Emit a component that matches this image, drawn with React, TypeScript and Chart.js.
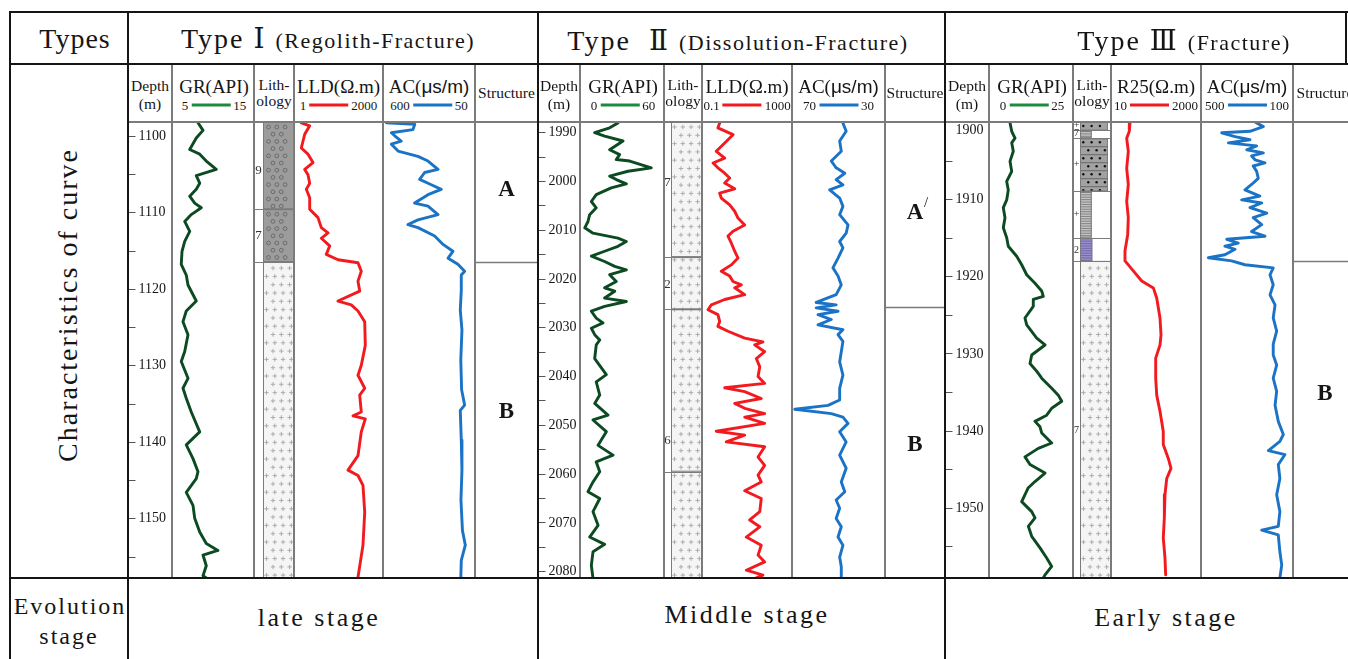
import React, { useEffect, useRef } from 'react';
import { Chart, registerables } from 'chart.js';
Chart.register(...registerables);

// ================= Type I (Regolith-Fracture) =================
const t1DepthRange = [1098.2, 1157.8];
const t1DepthMajor = [1100, 1110, 1120, 1130, 1140, 1150];
const t1DepthMinor = [1105, 1115, 1125, 1135, 1145, 1155];
const t1GrScale = [5, 15];
const t1GrDepth = [1098.3, 1099.3, 1100.3, 1101.8, 1102.4, 1103.3, 1104.4, 1105.2, 1106.2, 1107.0, 1107.9, 1108.8, 1109.4, 1110.3, 1111.2, 1112.5, 1113.8, 1115.1, 1116.8, 1118.2, 1119.5, 1121.6, 1122.9, 1124.3, 1126.0, 1128.2, 1129.5, 1131.7, 1133.0, 1134.3, 1136.1, 1138.7, 1140.4, 1142.2, 1143.9, 1144.8, 1146.6, 1148.3, 1150.0, 1151.8, 1153.3, 1154.2, 1154.8, 1156.2, 1157.5, 1158.1];
const t1GrValue = [8.17, 8.78, 7.96, 7.16, 8.38, 9.18, 10.4, 7.96, 8.38, 7.96, 7.16, 7.77, 8.57, 7.35, 6.55, 7.16, 6.55, 6.22, 6.13, 6.74, 6.95, 7.96, 6.74, 6.34, 6.95, 6.55, 6.13, 6.95, 6.34, 6.74, 7.35, 8.38, 6.74, 7.56, 8.17, 7.96, 6.74, 7.56, 7.77, 8.38, 9.18, 10.6, 8.78, 9.18, 8.78, 9.6];
const t1LldScale = [1, 2000];
const t1LldDepth = [1098.3, 1098.7, 1099.8, 1101.6, 1102.4, 1103.5, 1104.4, 1105.1, 1106.2, 1107.0, 1108.1, 1109.6, 1110.7, 1112.0, 1112.7, 1113.4, 1114.4, 1115.5, 1116.2, 1116.6, 1117.7, 1119.0, 1120.3, 1121.6, 1122.1, 1122.9, 1124.3, 1127.4, 1130.0, 1131.3, 1133.0, 1133.9, 1136.1, 1136.6, 1137.0, 1138.7, 1141.8, 1143.7, 1144.4, 1145.7, 1149.2, 1153.5, 1157.7];
const t1LldValue = [1.59, 3.31, 2.14, 1.59, 2.85, 4.42, 2.14, 2.85, 3.31, 2.46, 3.31, 3.31, 6.84, 9.12, 16.4, 9.12, 19.0, 14.1, 39.2, 225, 300, 225, 261, 39.2, 125, 225, 405, 426, 300, 225, 405, 261, 300, 146, 426, 300, 225, 94, 225, 348, 405, 348, 225];
const t1AcScale = [600, 50];
const t1AcDepth = [1098.3, 1098.5, 1099.2, 1099.6, 1100.0, 1100.7, 1101.1, 1102.0, 1102.7, 1103.3, 1104.4, 1104.8, 1105.7, 1106.4, 1107.0, 1107.7, 1108.8, 1109.2, 1110.3, 1111.0, 1111.6, 1112.0, 1113.1, 1114.2, 1115.1, 1116.0, 1116.8, 1117.7, 1118.2, 1120.2, 1122.8, 1125.4, 1129.3, 1133.2, 1135.2, 1135.9, 1139.8, 1143.7, 1147.6, 1151.6, 1153.5, 1155.5, 1157.9];
const t1AcValue = [580, 410, 421, 550, 530, 491, 550, 510, 391, 331, 271, 351, 381, 311, 252, 331, 411, 331, 271, 391, 451, 391, 291, 241, 182, 211, 152, 112, 132, 132, 138, 128, 135, 130, 112, 138, 132, 128, 134, 125, 108, 132, 135];
const t1LithTop = [1098.2, 1109.6, 1116.5];
const t1LithBottom = [1109.6, 1116.5, 1157.8];
const t1LithRock = ['gravel', 'gravel', 'granite'];
const t1LithLabel = ['9', '7', ''];
const t1LithLabelDepth = [1104.5, 1113.1, 0];
const t1StructBounds = [1116.5];
const t1StructLabels = ['A', 'B'];
const t1StructLabelDepth = [1107.1, 1136.1];

// ================= Type II (Dissolution-Fracture) =================
const t2DepthRange = [1987.9, 2081.4];
const t2DepthMajor = [1990, 2000, 2010, 2020, 2030, 2040, 2050, 2060, 2070, 2080];
const t2DepthMinor = [1995, 2005, 2015, 2025, 2035, 2045, 2055, 2065, 2075];
const t2GrScale = [0, 60];
const t2GrDepth = [1988.1, 1989.1, 1990.1, 1990.8, 1991.8, 1993.6, 1994.6, 1995.6, 1995.9, 1997.3, 1998.0, 1999.0, 1999.7, 2000.6, 2001.4, 2002.8, 2004.2, 2005.5, 2006.9, 2008.3, 2009.6, 2010.7, 2011.7, 2012.4, 2013.4, 2014.4, 2015.4, 2016.5, 2017.5, 2018.2, 2019.2, 2020.6, 2021.9, 2022.6, 2024.0, 2024.7, 2025.7, 2026.7, 2028.1, 2029.1, 2030.2, 2031.5, 2032.6, 2033.6, 2036.4, 2039.7, 2041.2, 2043.9, 2045.6, 2048.0, 2049.0, 2051.4, 2054.2, 2056.2, 2057.6, 2059.6, 2061.7, 2063.7, 2065.1, 2067.8, 2070.6, 2073.0, 2074.5, 2076.0, 2078.8, 2081.5];
const t2GrValue = [27.1, 21.2, 10.5, 17.6, 30.7, 21.2, 28.3, 25.9, 35.5, 50.9, 34.3, 21.2, 25.9, 33.1, 22.3, 11.6, 8.1, 11.6, 6.9, 5.7, 3.4, 9.3, 27.1, 33.1, 27.1, 17.6, 8.1, 17.6, 24.8, 33.1, 21.2, 25.9, 17.6, 24.8, 17.6, 33.1, 17.6, 8.1, 11.6, 16.4, 8.1, 10.5, 14.1, 11.6, 10.5, 18.8, 11.6, 14.1, 10.5, 20.0, 9.3, 18.8, 12.9, 23.6, 11.6, 14.1, 9.3, 5.7, 14.1, 9.3, 12.9, 6.9, 17.6, 9.3, 8.1, 9.3];
const t2LldScale = [0.1, 1000];
const t2LldDepth = [1988.1, 1989.1, 1990.5, 1992.2, 1993.9, 1995.3, 1996.3, 1997.3, 1998.4, 1999.4, 2000.4, 2001.6, 2002.5, 2003.5, 2004.9, 2006.2, 2007.6, 2009.0, 2010.3, 2011.3, 2012.7, 2014.4, 2015.8, 2017.2, 2018.5, 2019.5, 2020.6, 2021.3, 2021.9, 2023.3, 2024.3, 2025.4, 2026.4, 2027.4, 2028.8, 2029.8, 2030.8, 2032.2, 2033.0, 2033.6, 2035.0, 2036.4, 2038.1, 2040.1, 2041.5, 2042.4, 2043.2, 2044.6, 2045.6, 2046.6, 2047.7, 2048.4, 2049.7, 2051.3, 2052.1, 2053.5, 2054.5, 2056.6, 2058.3, 2060.3, 2061.7, 2063.5, 2065.1, 2067.8, 2069.5, 2070.9, 2073.0, 2074.7, 2076.7, 2078.1, 2079.8, 2080.8, 2081.5];
const t2LldValue = [0.61, 0.51, 2.39, 1.02, 0.43, 1.02, 0.31, 0.51, 1.02, 1.70, 1.02, 2.84, 0.61, 0.72, 1.70, 2.84, 3.98, 7.9, 2.39, 1.43, 2.0, 2.84, 3.98, 2.0, 0.72, 1.70, 2.39, 5.6, 2.84, 7.9, 1.02, 0.26, 0.185, 0.51, 0.61, 0.51, 1.43, 7.9, 51, 22, 61, 26, 37, 31, 61, 1.02, 7.9, 43, 2.84, 7.9, 61, 7.9, 61, 0.43, 7.9, 1.2, 61, 31, 61, 31, 43, 7.9, 43, 37, 13.2, 37, 9.3, 43, 31, 61, 9.3, 51, 22];
const t2AcScale = [70, 30];
const t2AcDepth = [1988.1, 1989.8, 1991.8, 1993.9, 1995.9, 1997.3, 1998.4, 1999.7, 2000.8, 2001.8, 2003.5, 2005.2, 2006.9, 2009.0, 2010.7, 2012.4, 2013.7, 2015.8, 2017.8, 2019.5, 2021.3, 2023.3, 2024.9, 2025.4, 2026.0, 2026.7, 2027.4, 2028.4, 2029.5, 2030.5, 2031.5, 2032.9, 2037.1, 2039.8, 2042.5, 2044.9, 2046.0, 2046.8, 2047.7, 2048.4, 2049.7, 2051.4, 2053.5, 2056.2, 2058.9, 2061.7, 2063.7, 2065.4, 2067.1, 2069.2, 2070.9, 2073.0, 2074.7, 2077.1, 2079.1, 2081.5];
const t2AcValue = [48.1, 46.7, 49.5, 48.8, 53.1, 51.0, 47.3, 51.0, 48.1, 53.8, 49.5, 48.1, 49.5, 45.9, 46.7, 49.5, 48.1, 50.2, 52.4, 50.2, 48.8, 51.0, 59.6, 51.0, 59.6, 50.2, 58.8, 53.1, 58.8, 48.1, 50.2, 48.1, 49.5, 48.1, 49.5, 49.5, 54.5, 68.8, 53.1, 48.1, 45.9, 49.5, 46.7, 49.5, 46.7, 48.8, 47.3, 51.0, 49.5, 51.0, 48.8, 50.2, 48.1, 49.5, 48.8, 48.8];
const t2LithTop = [1987.9, 2015.6, 2026.3, 2059.6];
const t2LithBottom = [2015.6, 2026.3, 2059.6, 2081.4];
const t2LithRock = ['granite', 'granite', 'granite', 'granite'];
const t2LithLabel = ['7', '2', '6', ''];
const t2LithLabelDepth = [2000.4, 2021.3, 2053.3, 0];
const t2StructBounds = [2025.8];
const t2StructLabels = ['A', 'B'];
const t2StructLabelDepth = [2006.5, 2054.1];

// ================= Type III (Fracture) =================
const t3DepthRange = [1900, 1959.1];
const t3DepthMajor = [1900, 1910, 1920, 1930, 1940, 1950];
const t3DepthMinor = [1905, 1915, 1925, 1935, 1945, 1955];
const t3GrScale = [0, 25];
const t3GrDepth = [1900.1, 1901.2, 1902.1, 1902.7, 1903.8, 1905.1, 1906.4, 1907.7, 1908.8, 1910.1, 1911.1, 1912.4, 1913.7, 1915.0, 1916.1, 1917.4, 1918.5, 1919.8, 1920.9, 1921.9, 1922.6, 1923.0, 1923.9, 1925.4, 1926.3, 1928.0, 1928.9, 1930.2, 1931.3, 1932.3, 1933.2, 1934.5, 1935.4, 1936.2, 1937.1, 1938.0, 1938.8, 1939.5, 1940.3, 1941.6, 1942.3, 1943.4, 1944.4, 1945.5, 1946.6, 1947.4, 1949.2, 1950.5, 1951.3, 1952.4, 1953.7, 1955.2, 1956.5, 1957.6, 1958.7, 1959.1];
const t3GrValue = [6.25, 6.76, 7.74, 6.76, 7.23, 6.25, 6.76, 5.27, 5.74, 5.27, 4.26, 4.76, 4.26, 5.27, 5.74, 8.24, 9.73, 11.22, 13.69, 15.68, 16.16, 13.18, 13.18, 10.71, 11.22, 14.2, 16.67, 12.71, 12.2, 14.2, 15.68, 18.66, 20.62, 21.64, 18.66, 17.17, 13.69, 15.18, 15.68, 18.66, 14.67, 10.71, 12.2, 16.67, 13.69, 11.7, 9.73, 12.71, 13.69, 11.7, 12.71, 15.18, 17.17, 18.66, 16.67, 16.16];
const t3ResScale = [10, 2000];
const t3ResDepth = [1900.1, 1901.2, 1902.1, 1903.8, 1906.0, 1908.1, 1910.3, 1912.4, 1914.6, 1916.7, 1918.0, 1919.3, 1920.6, 1921.5, 1922.8, 1925.4, 1927.6, 1928.9, 1930.6, 1933.2, 1935.4, 1937.5, 1940.1, 1941.8, 1943.6, 1944.9, 1946.2, 1948.3, 1951.3, 1953.9, 1956.5, 1958.7];
const t3ResValue = [30.6, 29.4, 25.2, 27.7, 25.2, 27.7, 25.2, 27.7, 26.7, 22.8, 22.8, 37.2, 61, 121, 147.5, 179, 190, 179, 139, 139, 147.5, 179, 217, 217, 292, 342, 266, 240, 231, 217, 240, 250];
const t3AcScale = [500, 100];
const t3AcDepth = [1900.0, 1900.6, 1901.2, 1901.4, 1901.9, 1902.3, 1902.7, 1903.1, 1903.6, 1904.0, 1904.4, 1904.9, 1905.3, 1905.7, 1906.4, 1907.3, 1908.1, 1908.8, 1909.6, 1910.1, 1910.5, 1911.1, 1911.8, 1912.4, 1913.3, 1914.2, 1914.8, 1915.2, 1915.7, 1916.1, 1916.5, 1917.2, 1917.6, 1918.0, 1918.5, 1918.9, 1919.8, 1921.1, 1922.4, 1923.7, 1925.4, 1927.1, 1928.8, 1930.2, 1931.5, 1933.2, 1934.9, 1936.7, 1938.8, 1940.5, 1941.4, 1942.6, 1943.1, 1944.4, 1946.2, 1948.3, 1950.5, 1952.4, 1952.9, 1953.5, 1955.7, 1957.4, 1959.1];
const t3AcValue = [265, 229, 287, 410, 352, 287, 381, 258, 301, 229, 280, 265, 222, 273, 258, 251, 280, 309, 244, 323, 236, 287, 214, 273, 236, 280, 222, 388, 338, 396, 352, 396, 468, 367, 309, 186, 200, 186, 200, 178, 186, 171, 186, 186, 171, 186, 171, 178, 164, 142, 157, 207, 135, 164, 157, 171, 157, 164, 236, 164, 157, 149, 157];
const t3LithTop = [1900.0, 1901.1, 1902.1, 1909.0, 1915.0, 1918.0];
const t3LithBottom = [1901.1, 1902.1, 1909.0, 1915.0, 1918.0, 1959.1];
const t3LithRock = ['sand', 'mud', 'sand', 'mud', 'purple', 'granite'];
const t3LithLabel = ['+', '7', '+', '+', '2', '7'];
const t3LithLabelDepth = [1900.4, 1901.5, 1905.5, 1912.0, 1916.6, 1940.0];
const t3StructBounds = [1918.0];
const t3StructLabels = ['B'];
const t3StructLabelDepth = [1935.2];

// ================= styling =================
const SERIF = '"Liberation Serif", "Times New Roman", "DejaVu Serif", serif';
const SANS = '"Liberation Sans", Arial, sans-serif';
const INK = '#151515';
const GRAY = '#7b7b7b';
const GREEN_CURVE = '#0c4a22';
const GREEN_KEY = '#1e8a3e';
const RED = '#f21a1f';
const BLUE = '#1b73c6';
const TOP = 122;
const H = 456;

const ROCK_WIDTH: any = { granite: 1, gravel: 1, sand: 0.9, mud: 0.38, purple: 0.4 };

function paintRock(ctx: any, rock: string, x0: number, x1: number, y0: number, y1: number, oy: number) {
  const w = x1 - x0, h = y1 - y0;
  ctx.save();
  ctx.beginPath();
  ctx.rect(x0, y0, w, h);
  ctx.clip();
  if (rock === 'granite') {
    ctx.fillStyle = '#f5f5f5';
    ctx.fillRect(x0, y0, w, h);
    ctx.strokeStyle = '#a6a6a6';
    ctx.lineWidth = 0.9;
    let r = 0;
    for (let yy = oy + 5; yy < y1 + 9; yy += 8.3, r++) {
      if (yy < y0 - 9) continue;
      const off = r % 2 ? 10 : 3.5;
      for (let k = 0; k < 4; k++) {
        const xx = x0 + off + k * 8.3;
        ctx.beginPath();
        ctx.moveTo(xx - 2.2, yy); ctx.lineTo(xx + 2.2, yy);
        ctx.moveTo(xx, yy - 2.2); ctx.lineTo(xx, yy + 2.2);
        ctx.stroke();
      }
    }
  } else if (rock === 'gravel') {
    ctx.fillStyle = '#9c9c9c';
    ctx.fillRect(x0, y0, w, h);
    ctx.strokeStyle = '#5f5f5f';
    ctx.lineWidth = 0.8;
    let r = 0;
    for (let yy = y0 + 5; yy < y1 + 8; yy += 7.2, r++) {
      const xs = r % 2 ? [10, 18.3] : [5.5, 13.8, 22.1];
      xs.forEach((dx) => {
        ctx.beginPath();
        ctx.arc(x0 + dx, yy, 1.9, 0, Math.PI * 2);
        ctx.stroke();
      });
    }
  } else if (rock === 'sand') {
    ctx.fillStyle = '#a2a2a2';
    ctx.fillRect(x0, y0, w, h);
    ctx.fillStyle = '#111';
    ctx.strokeStyle = '#5a5a5a';
    ctx.lineWidth = 0.8;
    let r = 0;
    for (let yy = y0; yy < y1; yy += 8, r++) {
      ctx.beginPath(); ctx.moveTo(x0, yy + 0.5); ctx.lineTo(x1, yy + 0.5); ctx.stroke();
      const xs = r % 2 ? [8.3, 16.6, 24.9] : [3.3, 11.6, 19.9];
      xs.forEach((dx) => {
        ctx.beginPath();
        ctx.arc(x0 + dx, yy + 4, 1.2, 0, Math.PI * 2);
        ctx.fill();
      });
    }
  } else if (rock === 'mud' || rock === 'purple') {
    ctx.fillStyle = rock === 'mud' ? '#c4c4c4' : '#9b8fcc';
    ctx.fillRect(x0, y0, w, h);
    ctx.strokeStyle = rock === 'mud' ? '#7a7a7a' : '#6e62ad';
    ctx.lineWidth = 0.9;
    for (let yy = y0 + 1; yy < y1; yy += 2.4) {
      ctx.beginPath(); ctx.moveTo(x0, yy); ctx.lineTo(x1, yy); ctx.stroke();
    }
  }
  ctx.restore();
  ctx.save();
  ctx.strokeStyle = GRAY;
  ctx.lineWidth = 1;
  ctx.strokeRect(x0 + 0.5, y0 + 0.5, w - 1, h - 1);
  ctx.restore();
}

function baseOptions(yMin: number, yMax: number, x: any) {
  return {
    responsive: false,
    animation: false,
    events: [],
    layout: { padding: 0 },
    plugins: { legend: { display: false }, tooltip: { enabled: false } },
    scales: {
      x: { display: false, ...x },
      y: { type: 'linear', min: yMin, max: yMax, reverse: true, display: false },
    },
  };
}

function curveConfig(depths: number[], values: number[], color: string, xType: string, scale: number[], range: number[]) {
  const rev = scale[0] > scale[1];
  return {
    type: 'scatter',
    data: {
      datasets: [{
        data: depths.map((d, i) => ({ x: values[i], y: d })),
        showLine: true,
        borderColor: color,
        borderWidth: 2.9,
        pointRadius: 0,
        tension: 0,
        borderJoinStyle: 'round',
        borderCapStyle: 'round',
      }],
    },
    options: baseOptions(range[0], range[1], { type: xType, min: Math.min(scale[0], scale[1]), max: Math.max(scale[0], scale[1]), reverse: rev }),
  };
}

function depthConfig(range: number[], major: number[], minor: number[]) {
  return {
    type: 'scatter',
    data: { datasets: [] },
    options: baseOptions(range[0], range[1], { type: 'linear', min: 0, max: 1 }),
    plugins: [{
      id: 'depthTicks',
      afterDraw(chart: any) {
        const { ctx, chartArea: a, scales } = chart;
        const y = scales.y;
        ctx.save();
        ctx.strokeStyle = '#555';
        ctx.lineWidth = 1;
        [...major, ...minor].forEach((v) => {
          const py = Math.round(y.getPixelForValue(v)) + 0.5;
          ctx.beginPath(); ctx.moveTo(a.left + 1, py); ctx.lineTo(a.left + 7.5, py); ctx.stroke();
        });
        ctx.fillStyle = INK;
        ctx.font = '14px ' + SERIF;
        ctx.textBaseline = 'middle';
        ctx.textAlign = 'left';
        major.forEach((v) => {
          const py = Math.max(y.getPixelForValue(v), a.top + 8);
          ctx.fillText(String(v), a.left + 10.5, py + 0.5);
        });
        ctx.restore();
      },
    }],
  };
}

function lithConfig(range: number[], tops: number[], bottoms: number[], rocks: string[], labels: string[], labelDepths: number[], labelW: number, labelSize: number) {
  return {
    type: 'scatter',
    data: { datasets: [] },
    options: baseOptions(range[0], range[1], { type: 'linear', min: 0, max: 1 }),
    plugins: [{
      id: 'lithology',
      afterDraw(chart: any) {
        const { ctx, chartArea: a, scales } = chart;
        const y = scales.y;
        const bx0 = a.left + labelW;
        const full = a.right - bx0;
        tops.forEach((t, i) => {
          const y0 = y.getPixelForValue(t);
          const y1 = y.getPixelForValue(bottoms[i]);
          paintRock(ctx, rocks[i], bx0, bx0 + full * ROCK_WIDTH[rocks[i]], y0, y1, a.top);
        });
        ctx.save();
        ctx.strokeStyle = GRAY;
        ctx.lineWidth = 1;
        ctx.beginPath(); ctx.moveTo(bx0 + 0.5, a.top); ctx.lineTo(bx0 + 0.5, a.bottom); ctx.stroke();
        tops.forEach((t, i) => {
          if (i === 0) return;
          const py = Math.round(y.getPixelForValue(t)) + 0.5;
          ctx.beginPath(); ctx.moveTo(a.left, py); ctx.lineTo(bx0 + full, py); ctx.stroke();
        });
        ctx.fillStyle = '#333';
        ctx.font = labelSize + 'px ' + SERIF;
        ctx.textAlign = 'center';
        ctx.textBaseline = 'middle';
        labels.forEach((l, i) => {
          if (l) ctx.fillText(l, a.left + labelW / 2, y.getPixelForValue(labelDepths[i]));
        });
        ctx.restore();
      },
    }],
  };
}

function structConfig(range: number[], bounds: number[], labels: string[], labelDepths: number[], prime: boolean) {
  return {
    type: 'scatter',
    data: { datasets: [] },
    options: baseOptions(range[0], range[1], { type: 'linear', min: 0, max: 1 }),
    plugins: [{
      id: 'structure',
      afterDraw(chart: any) {
        const { ctx, chartArea: a, scales } = chart;
        const y = scales.y;
        ctx.save();
        ctx.strokeStyle = GRAY;
        ctx.lineWidth = 1.3;
        bounds.forEach((b) => {
          const py = Math.round(y.getPixelForValue(b)) + 0.5;
          ctx.beginPath(); ctx.moveTo(a.left, py); ctx.lineTo(a.right, py); ctx.stroke();
        });
        ctx.fillStyle = INK;
        ctx.font = 'bold 23px ' + SERIF;
        ctx.textAlign = 'center';
        ctx.textBaseline = 'middle';
        const cx = (a.left + a.right) / 2;
        labels.forEach((l, i) => {
          const py = y.getPixelForValue(labelDepths[i]);
          ctx.fillText(l, cx, py);
          if (prime && i === 0) {
            ctx.font = '15px ' + SERIF;
            ctx.fillText('/', cx + 11, py - 10);
            ctx.font = 'bold 23px ' + SERIF;
          }
        });
        ctx.restore();
      },
    }],
  };
}

function ChartBox({ left, width, make }: { left: number; width: number; make: () => any }) {
  const ref = useRef<HTMLCanvasElement>(null);
  useEffect(() => {
    const chart = new Chart(ref.current as HTMLCanvasElement, make());
    return () => chart.destroy();
  }, []);
  return (
    <canvas
      ref={ref}
      width={width}
      height={H}
      style={{ position: 'absolute', left, top: TOP, width, height: H, display: 'block' }}
    />
  );
}

function Txt({ x, y, size, ls = 0, family = SERIF, weight = 400, children }: any) {
  return (
    <div
      style={{
        position: 'absolute', left: x, top: y, transform: 'translate(-50%, -50%)',
        fontSize: size, letterSpacing: ls, fontFamily: family, fontWeight: weight,
        whiteSpace: 'pre', lineHeight: 1, color: INK,
      }}
    >
      {children}
    </div>
  );
}

function Key({ x, y, lo, hi, color, len = 39 }: any) {
  return (
    <div
      style={{
        position: 'absolute', left: x, top: y, transform: 'translate(-50%, -50%)',
        fontSize: 13, fontFamily: SERIF, whiteSpace: 'nowrap', lineHeight: 1, color: INK,
        display: 'flex', alignItems: 'center',
      }}
    >
      <span>{lo}</span>
      <span style={{ display: 'inline-block', width: len, height: 3, background: color, margin: '0 3px' }} />
      <span>{hi}</span>
    </div>
  );
}

function HL({ x1, x2, y, w = 2, c = INK }: any) {
  return <div style={{ position: 'absolute', left: x1, top: y - w / 2, width: x2 - x1, height: w, background: c }} />;
}
function VL({ x, y1, y2, w = 2, c = INK }: any) {
  return <div style={{ position: 'absolute', left: x - w / 2, top: y1, width: w, height: y2 - y1, background: c }} />;
}

function SubHeader({ cols, gr, res, resName, ac }: any) {
  const c = (i: number) => (cols[i] + cols[i + 1]) / 2;
  return (
    <>
      <Txt x={c(0)} y={86} size={15.5}>Depth</Txt>
      <Txt x={c(0)} y={104} size={15.5}>(m)</Txt>
      <Txt x={c(1) + 1} y={86} size={19}>GR(API)</Txt>
      <Key x={c(1) + 1} y={105} lo={gr[0]} hi={gr[1]} color={GREEN_KEY} />
      <Txt x={c(2)} y={85} size={15.5}>Lith-</Txt>
      <Txt x={c(2)} y={101} size={15.5}>ology</Txt>
      <Txt x={c(3)} y={86} size={19}>{resName}(Ω.m)</Txt>
      <Key x={c(3)} y={105} lo={res[0]} hi={res[1]} color={RED} />
      <Txt x={c(4)} y={86} size={19}>AC(<span style={{ fontFamily: SANS }}>μs/m)</span></Txt>
      <Key x={c(4)} y={105} lo={ac[0]} hi={ac[1]} color={BLUE} />
      <Txt x={c(5)} y={93} size={15.5}>Structure</Txt>
    </>
  );
}

const colsI = [128, 172, 254, 294, 383, 475, 538];
const colsII = [538, 580, 664, 702, 792, 885, 945];
const colsIII = [945, 989, 1073, 1111, 1201, 1293, 1357];

export default function App() {
  return (
    <div style={{ position: 'fixed', left: 0, top: 0, width: 1348, height: 659, background: '#fff', overflow: 'hidden' }}>
      {/* Type I tracks */}
      <ChartBox left={128} width={44} make={() => depthConfig(t1DepthRange, t1DepthMajor, t1DepthMinor)} />
      <ChartBox left={172} width={82} make={() => curveConfig(t1GrDepth, t1GrValue, GREEN_CURVE, 'linear', t1GrScale, t1DepthRange)} />
      <ChartBox left={254} width={40} make={() => lithConfig(t1DepthRange, t1LithTop, t1LithBottom, t1LithRock, t1LithLabel, t1LithLabelDepth, 9, 13)} />
      <ChartBox left={296} width={87} make={() => curveConfig(t1LldDepth, t1LldValue, RED, 'logarithmic', t1LldScale, t1DepthRange)} />
      <ChartBox left={383} width={92} make={() => curveConfig(t1AcDepth, t1AcValue, BLUE, 'linear', t1AcScale, t1DepthRange)} />
      <ChartBox left={475} width={63} make={() => structConfig(t1DepthRange, t1StructBounds, t1StructLabels, t1StructLabelDepth, false)} />

      {/* Type II tracks */}
      <ChartBox left={538} width={42} make={() => depthConfig(t2DepthRange, t2DepthMajor, t2DepthMinor)} />
      <ChartBox left={580} width={84} make={() => curveConfig(t2GrDepth, t2GrValue, GREEN_CURVE, 'linear', t2GrScale, t2DepthRange)} />
      <ChartBox left={664} width={38} make={() => lithConfig(t2DepthRange, t2LithTop, t2LithBottom, t2LithRock, t2LithLabel, t2LithLabelDepth, 7, 13)} />
      <ChartBox left={702} width={90} make={() => curveConfig(t2LldDepth, t2LldValue, RED, 'logarithmic', t2LldScale, t2DepthRange)} />
      <ChartBox left={792} width={93} make={() => curveConfig(t2AcDepth, t2AcValue, BLUE, 'linear', t2AcScale, t2DepthRange)} />
      <ChartBox left={885} width={60} make={() => structConfig(t2DepthRange, t2StructBounds, t2StructLabels, t2StructLabelDepth, true)} />

      {/* Type III tracks */}
      <ChartBox left={945} width={44} make={() => depthConfig(t3DepthRange, t3DepthMajor, t3DepthMinor)} />
      <ChartBox left={989} width={84} make={() => curveConfig(t3GrDepth, t3GrValue, GREEN_CURVE, 'linear', t3GrScale, t3DepthRange)} />
      <ChartBox left={1073} width={38} make={() => lithConfig(t3DepthRange, t3LithTop, t3LithBottom, t3LithRock, t3LithLabel, t3LithLabelDepth, 7, 10)} />
      <ChartBox left={1111} width={90} make={() => curveConfig(t3ResDepth, t3ResValue, RED, 'logarithmic', t3ResScale, t3DepthRange)} />
      <ChartBox left={1201} width={92} make={() => curveConfig(t3AcDepth, t3AcValue, BLUE, 'linear', t3AcScale, t3DepthRange)} />
      <ChartBox left={1293} width={64} make={() => structConfig(t3DepthRange, t3StructBounds, t3StructLabels, t3StructLabelDepth, false)} />

      {/* grid: thin inner lines */}
      <HL x1={128} x2={1348} y={122} w={1.5} c={GRAY} />
      {[...colsI.slice(1, 6), ...colsII.slice(1, 6), ...colsIII.slice(1, 6)].map((x, i) => (
        <VL key={'c' + i} x={x} y1={64} y2={578} w={1.5} c={GRAY} />
      ))}
      {/* grid: thick outer lines */}
      <HL x1={9} x2={1348} y={12} w={2.4} />
      <HL x1={9} x2={1348} y={64} w={2.4} />
      <HL x1={9} x2={1348} y={578} w={2.4} />
      <VL x={10} y1={11} y2={659} w={2.4} />
      <VL x={128} y1={11} y2={659} w={2.4} />
      <VL x={538} y1={11} y2={659} w={2.4} />
      <VL x={945} y1={11} y2={659} w={2.4} />
      <VL x={1346} y1={11} y2={64} w={2.4} />

      {/* header row */}
      <Txt x={75} y={39} size={28} ls={1}>Types</Txt>
      <Txt x={328} y={39} size={28}>
        <span style={{ letterSpacing: 2 }}>{'Type Ⅰ '}</span>
        <span style={{ fontSize: 22, letterSpacing: 1.5 }}>(Regolith-Fracture)</span>
      </Txt>
      <Txt x={738} y={41} size={28}>
        <span style={{ letterSpacing: 2 }}>{'Type  Ⅱ '}</span>
        <span style={{ fontSize: 22, letterSpacing: 1.5 }}>(Dissolution-Fracture)</span>
      </Txt>
      <Txt x={1184} y={41} size={28}>
        <span style={{ letterSpacing: 2 }}>{'Type Ⅲ '}</span>
        <span style={{ fontSize: 22, letterSpacing: 1.5 }}>(Fracture)</span>
      </Txt>

      {/* sub-header row */}
      <SubHeader cols={colsI} gr={t1GrScale} res={t1LldScale} resName="LLD" ac={t1AcScale} />
      <SubHeader cols={colsII} gr={t2GrScale} res={t2LldScale} resName="LLD" ac={t2AcScale} />
      <SubHeader cols={colsIII} gr={t3GrScale} res={t3ResScale} resName="R25" ac={t3AcScale} />

      {/* left label */}
      <div
        style={{
          position: 'absolute', left: 68, top: 305, transform: 'translate(-50%, -50%) rotate(-90deg)',
          fontSize: 28, letterSpacing: 2, fontFamily: SERIF, whiteSpace: 'nowrap', lineHeight: 1, color: INK,
        }}
      >
        Characteristics of curve
      </div>

      {/* bottom row */}
      <Txt x={70} y={606} size={24} ls={2}>Evolution</Txt>
      <Txt x={69} y={636} size={24} ls={2}>stage</Txt>
      <Txt x={319} y={618} size={26} ls={2.5}>late stage</Txt>
      <Txt x={747} y={615} size={26} ls={2.5}>Middle stage</Txt>
      <Txt x={1166} y={618} size={26} ls={2.5}>Early stage</Txt>
    </div>
  );
}
